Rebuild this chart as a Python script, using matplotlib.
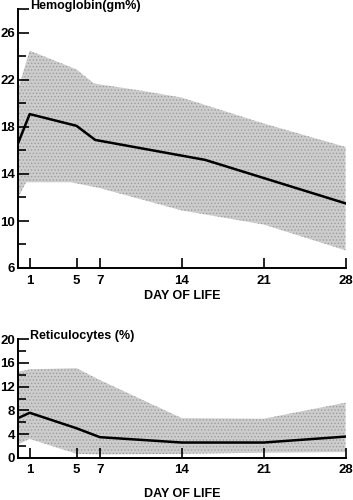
import numpy as np
import matplotlib
matplotlib.use("Agg")
import matplotlib.pyplot as plt

plt.rcParams['font.family'] = ['Liberation Sans', 'DejaVu Sans']
plt.rcParams['hatch.linewidth'] = 0.6

# hemoglobin (gm%) by day of life
hb_days = [0, 1, 5, 6.6, 16, 28]
hb_mean = [16.6, 19.1, 18.1, 16.9, 15.2, 11.5]
hb_up_days = [0, 1, 5, 6.5, 10.5, 14, 21, 28]
hb_upper = [21.2, 24.5, 22.9, 21.7, 21.1, 20.5, 18.3, 16.3]
hb_lo_days = [0, 0.7, 4.5, 7, 14, 21, 28]
hb_lower = [12.0, 13.3, 13.3, 12.8, 10.9, 9.7, 7.5]

# reticulocytes (%) by day of life
ret_days = [0, 1, 5, 7, 14, 21, 28]
ret_mean = [6.7, 7.6, 5.0, 3.5, 2.6, 2.6, 3.6]
ret_upper = [14.5, 14.9, 15.1, 13.1, 6.7, 6.6, 9.3]
ret_lower = [2.3, 3.2, 0.7, 0.6, 0.7, 0.9, 1.0]

day_ticks = [1, 5, 7, 14, 21, 28]
band_face = '#cdcdcd'
band_dots = '#9c9c9c'
fs = 9

fig = plt.figure(figsize=(3.53, 5.0), dpi=100)
ax1 = fig.add_axes([0.051, 0.464, 0.928, 0.517])
ax2 = fig.add_axes([0.051, 0.084, 0.928, 0.238])


def style(ax, ymin, ymax, major, minor, ylab, ypad, xpad, xlabpad):
    ax.set_xlim(0, 28)
    ax.set_ylim(ymin, ymax)
    for s in ['top', 'right']:
        ax.spines[s].set_visible(False)
    for s in ['left', 'bottom']:
        ax.spines[s].set_linewidth(1.4)
    ax.set_xticks(day_ticks)
    ax.set_yticks(major)
    ax.set_yticks(minor, minor=True)
    ax.tick_params(axis='y', which='major', direction='in', length=8, width=1.2,
                   pad=ypad, labelsize=fs + 0.5)
    ax.tick_params(axis='y', which='minor', direction='in', length=6, width=1.2)
    ax.tick_params(axis='x', direction='in', length=7, width=1.2, pad=xpad,
                   labelsize=fs + 0.5)
    for lab in ax.get_xticklabels() + ax.get_yticklabels():
        lab.set_fontweight('bold')
    ax.set_xlabel('DAY OF LIFE', fontsize=fs, fontweight='bold', labelpad=xlabpad)
    ax.text(1.0, ymax, ylab, fontsize=fs, fontweight='bold', ha='left',
            va='baseline')


# top: hemoglobin
poly_x = list(hb_up_days) + list(hb_lo_days[::-1])
poly_y = list(hb_upper) + list(hb_lower[::-1])
ax1.fill(poly_x, poly_y, facecolor=band_face, edgecolor=band_dots,
         hatch='.....', lw=0)
ax1.plot(hb_days, hb_mean, color='black', lw=1.8)
style(ax1, 6, 28, [6, 10, 14, 18, 22, 26, 28], [8, 12, 16, 20, 24],
      'Hemoglobin(gm%)', 2, 5, 2)
ax1.set_yticklabels(['6', '10', '14', '18', '22', '26', ''])

# bottom: reticulocytes
ax2.fill_between(ret_days, ret_lower, ret_upper, facecolor=band_face,
                 edgecolor=band_dots, hatch='.....', lw=0)
ax2.plot(ret_days, ret_mean, color='black', lw=1.8)
style(ax2, 0, 20, [0, 4, 8, 12, 16, 20], [2, 6, 10, 14, 18],
      'Reticulocytes (%)', 2, 4, 9)

fig.savefig('out.png', dpi=100)
